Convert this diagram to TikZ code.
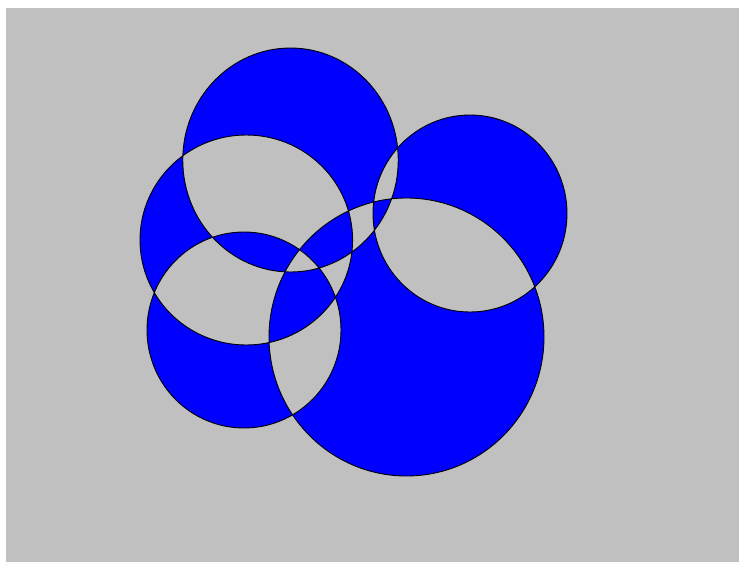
\documentclass[tikz,border=0pt]{standalone}
\definecolor{bggray}{HTML}{C0C0C0}
\definecolor{pureblue}{HTML}{0000FF}
\begin{document}
\begin{tikzpicture}[x=1pt,y=-1pt,
  shapes/.style={fill=pureblue,draw=black,line width=0.9pt,even odd rule}]
\useasboundingbox (0,0) rectangle (739,562);
\fill[white] (0,0) rectangle (739,562);
\fill[bggray] (6,8) rectangle (739,562);
\filldraw[shapes]
  (290.5,160) ellipse [x radius=107.75, y radius=112]
  (246.3,240) ellipse [x radius=106.3, y radius=105]
  (244,330) ellipse [x radius=97, y radius=98]
  (470,213.5) ellipse [x radius=97, y radius=98.5]
  (406.5,337) ellipse [x radius=137.5, y radius=139];
\end{tikzpicture}
\end{document}
